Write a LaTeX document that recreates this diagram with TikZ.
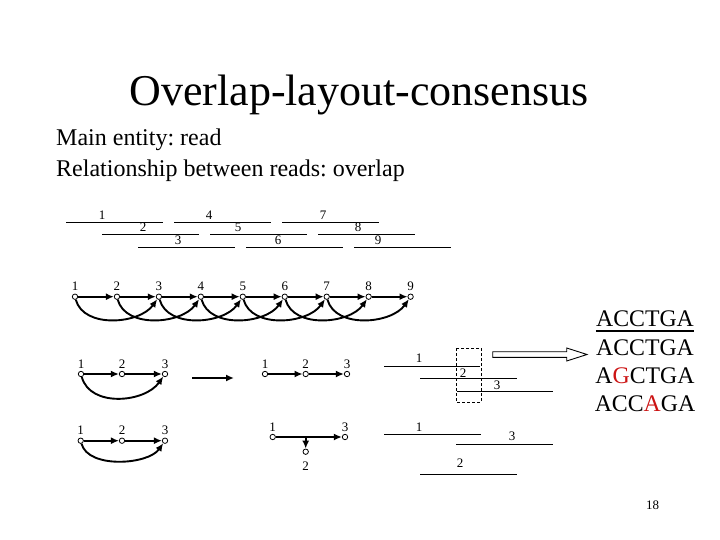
\documentclass[tikz,border=0pt]{standalone}
\usepackage{fontspec}
\setmainfont{Liberation Serif}
\usetikzlibrary{arrows.meta}
\definecolor{dnared}{RGB}{204,20,20}
\frenchspacing
\tikzset{
  lbl/.style={font=\fontsize{13}{13}\selectfont, inner sep=0pt, anchor=base},
  glbl/.style={font=\fontsize{13}{13}\selectfont, inner sep=0pt},
  readln/.style={line width=0.9pt},
  vtx/.style={circle, draw, fill=white, minimum size=5.4pt, inner sep=0pt, line width=0.8pt},
  edge/.style={line width=1.9pt, -{Latex[length=8pt,width=7pt]}},
  big/.style={font=\fontsize{24}{24}\selectfont, inner sep=0pt, anchor=base},
  seq/.style={font=\fontsize{23.8}{23.8}\selectfont, inner sep=0pt, anchor=base},
}
\begin{document}
\begin{tikzpicture}[x=1pt,y=-1pt]
\useasboundingbox[fill=white] (0,0) rectangle (720,540);

% title and text
\node[font=\fontsize{44}{44}\selectfont, inner sep=0pt, anchor=base] (title) at (359,106) {Overlap-layout-consensus};
\node[big, anchor=base west] (t1) at (56,146) {Main entity: read};
\node[big, anchor=base west] (t2) at (56,177) {Relationship between reads: overlap};

% top reads
\draw[readln] (66,222) -- (163,222);   \node[lbl] (r1) at (102,219.5) {1};
\draw[readln] (174,222) -- (271,222);  \node[lbl] (r4) at (209,219.5) {4};
\draw[readln] (282,222) -- (379,222);  \node[lbl] (r7) at (323,219.5) {7};
\draw[readln] (102,234) -- (199,234);  \node[lbl] (r2) at (143,231.5) {2};
\draw[readln] (210,234) -- (307,234);  \node[lbl] (r5) at (238,231.5) {5};
\draw[readln] (318,234) -- (415,234);  \node[lbl] (r8) at (358,231.5) {8};
\draw[readln] (138,247) -- (235,247);  \node[lbl] (r3) at (178,244.5) {3};
\draw[readln] (246,247) -- (343,247);  \node[lbl] (r6) at (278,244.5) {6};
\draw[readln] (354,247) -- (451,247);  \node[lbl] (r9) at (378,244.5) {9};

% overlap graph
\foreach \i in {1,...,9} {
  \node[vtx, label={[glbl, label distance=2.5pt]above:\i}] (g\i) at ({75+41.95*(\i-1)},296.7) {};
}
\foreach \i [evaluate=\i as \j using int(\i+1)] in {1,...,8} {
  \draw[edge] (g\i) -- (g\j);
}
\foreach \i [evaluate=\i as \j using int(\i+2)] in {1,...,7} {
  \draw[edge] (g\i) to[out=-75,in=-125,looseness=0.95] (g\j);
}

% transitive reduction example
\node[vtx, label={[glbl, label distance=2.5pt]above:1}] (a1) at (81,374) {};
\node[vtx, label={[glbl, label distance=2.5pt]above:2}] (a2) at (122,374) {};
\node[vtx, label={[glbl, label distance=2.5pt]above:3}] (a3) at (165,374) {};
\draw[edge] (a1) -- (a2);
\draw[edge] (a2) -- (a3);
\draw[edge] (a1) to[out=-75,in=-125,looseness=1] (a3);

\coordinate (m1) at (192,378);
\coordinate (m2) at (234,378);
\draw[edge] (m1) -- (m2);

\node[vtx, label={[glbl, label distance=2.5pt]above:1}] (b1) at (265,374) {};
\node[vtx, label={[glbl, label distance=2.5pt]above:2}] (b2) at (305.7,374) {};
\node[vtx, label={[glbl, label distance=2.5pt]above:3}] (b3) at (347,374) {};
\draw[edge] (b1) -- (b2);
\draw[edge] (b2) -- (b3);

% containment example
\node[vtx, label={[glbl, label distance=2.5pt]above:1}] (c1) at (80.7,440.7) {};
\node[vtx, label={[glbl, label distance=2.5pt]above:2}] (c2) at (122,440.7) {};
\node[vtx, label={[glbl, label distance=2.5pt]above:3}] (c3) at (165,440.7) {};
\draw[edge] (c1) -- (c2);
\draw[edge] (c2) -- (c3);
\draw[edge] (c1) to[out=-75,in=-125,looseness=0.82] (c3);

\node[vtx, label={[glbl, label distance=2.5pt]above:1}] (d1) at (272.7,437) {};
\node[vtx, label={[glbl, label distance=2.5pt]above:3}] (d3) at (345,437) {};
\node[vtx, label={[glbl, label distance=7pt]below:2}] (d2) at (305.7,451.7) {};
\coordinate (dm) at (305.7,437);
\draw[edge] (d1) -- (d3);
\draw[edge] (dm) -- (d2);

% layout: consensus column
\draw[readln] (384,366) -- (480,366);  \node[lbl] (e1) at (419,362.7) {1};
\draw[readln] (420,378) -- (517,378);  \node[lbl] (e2) at (463,377) {2};
\draw[readln] (457,391) -- (553,391);  \node[lbl] (e3) at (497,389) {3};
\draw[line width=0.9pt, dash pattern=on 3pt off 2pt] (456,348) rectangle (481,402);

% layout: containment
\draw[readln] (384,434) -- (481,434);  \node[lbl] (f1) at (419,431.7) {1};
\draw[readln] (456,444) -- (553,444);  \node[lbl] (f3) at (512,440.7) {3};
\draw[readln] (420,474) -- (517,474);  \node[lbl] (f2) at (460,467) {2};

% hollow block arrow
\draw[line width=0.9pt, fill=white] (492.7,351.7) -- (566.7,351.7) -- (566.7,348) -- (587,354.5)
  -- (566.7,361) -- (566.7,357.3) -- (492.7,357.3) -- cycle;

% sequences
\node[seq] (s1) at (645,326) {ACCTGA};
\draw[line width=2pt] ([yshift=-4.5pt]s1.base west) -- ([yshift=-4.5pt]s1.base east);
\node[seq] (s2) at (645,355) {ACCTGA};
\node[seq] (s3) at (645,383) {A\textcolor{dnared}{G}CTGA};
\node[seq] (s4) at (645,411) {ACC\textcolor{dnared}{A}GA};

% page number
\node[lbl] (pg) at (652.5,509) {18};
\end{tikzpicture}
\end{document}
